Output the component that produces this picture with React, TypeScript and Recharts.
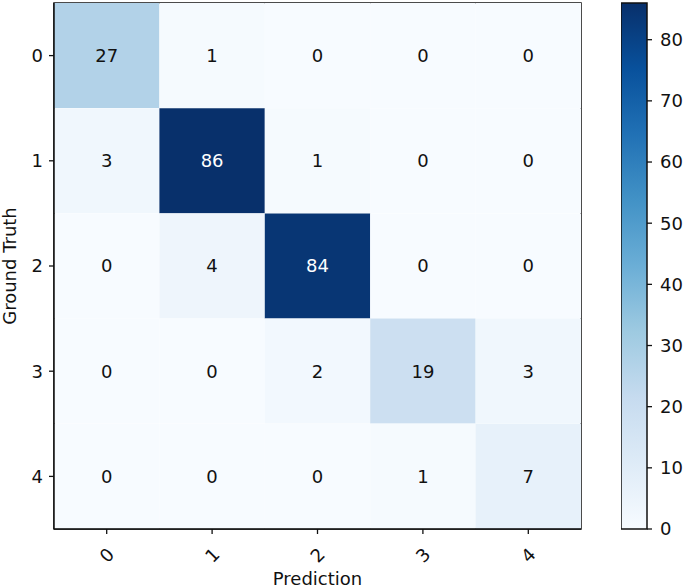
import { BarChart, Bar, XAxis, YAxis, Cell, LabelList, ReferenceArea } from 'recharts';

const truthLabels = ['0', '1', '2', '3', '4'];
const predLabels = ['0', '1', '2', '3', '4'];

const truth0 = [27, 1, 0, 0, 0];
const truth1 = [3, 86, 1, 0, 0];
const truth2 = [0, 4, 84, 0, 0];
const truth3 = [0, 0, 2, 19, 3];
const truth4 = [0, 0, 0, 1, 7];

const colorbarTicks = [0, 10, 20, 30, 40, 50, 60, 70, 80];

const counts = [truth0, truth1, truth2, truth3, truth4];
const maxCount = Math.max(...counts.flat());

// matplotlib "Blues"
const blues = ['#f7fbff', '#deebf7', '#c6dbef', '#9ecae1', '#6baed6', '#4292c6', '#2171b5', '#08519c', '#08306b'];

const hex = (c: string) => [1, 3, 5].map((i) => parseInt(c.slice(i, i + 2), 16));

const bluesAt = (t: number) => {
  const p = Math.min(Math.max(t, 0), 1) * (blues.length - 1);
  const i = Math.min(Math.floor(p), blues.length - 2);
  const f = p - i;
  const a = hex(blues[i]);
  const b = hex(blues[i + 1]);
  const m = a.map((v, k) => Math.round(v + (b[k] - v) * f));
  return `rgb(${m[0]},${m[1]},${m[2]})`;
};

const rows = truthLabels.map((label, i) => {
  const row: any = { truth: label };
  predLabels.forEach((_, j) => {
    row[`c${j}`] = 1;
    row[`v${j}`] = counts[i][j];
  });
  return row;
});

const colorbarData = [{ name: 'cb', value: maxCount }];

const FONT = '"DejaVu Sans", sans-serif';
const INK = '#111';
const FS = 18;

const XTick = (props: any) => {
  const { x, y, payload } = props;
  const label = predLabels[Math.round(payload.value - 0.5)];
  return (
    <g transform={`translate(${x},${y + 21})`}>
      <text textAnchor="middle" dominantBaseline="central" transform="rotate(-45)" fontSize={FS} fontFamily={FONT} fill={INK}>
        {label}
      </text>
    </g>
  );
};

const CellLabel = (props: any) => {
  const { x, y, width, height, value } = props;
  return (
    <text x={x + width / 2} y={y + height / 2} textAnchor="middle" dominantBaseline="central" fontSize={FS} fontFamily={FONT} fill={value > maxCount / 2 ? '#fff' : INK}>
      {value}
    </text>
  );
};

export default function App() {
  return (
    <div style={{ position: 'absolute', left: 0, top: 0, width: 683, height: 588, background: '#fff', fontFamily: FONT }}>
      <div style={{ position: 'absolute', left: 0, top: 0 }}>
        <BarChart width={600} height={588} data={rows} layout="vertical" barCategoryGap={0} barGap={0} margin={{ top: 3, right: 19, bottom: 0, left: 0 }}>
          {predLabels.map((_, j) => (
            <Bar key={j} dataKey={`c${j}`} stackId="m" isAnimationActive={false}>
              {counts.map((r, i) => (
                <Cell key={i} fill={bluesAt(r[j] / maxCount)} />
              ))}
              <LabelList dataKey={`v${j}`} content={<CellLabel />} />
            </Bar>
          ))}
          <XAxis
            type="number"
            domain={[0, 5]}
            ticks={[0.5, 1.5, 2.5, 3.5, 4.5]}
            height={59}
            tickSize={5}
            tickMargin={0}
            tick={<XTick />}
            stroke={INK}
            axisLine={{ stroke: INK, strokeWidth: 1.5 }}
            tickLine={{ stroke: INK, strokeWidth: 1.3 }}
            label={{ value: 'Prediction', position: 'insideBottom', offset: 3, fontSize: FS, fontFamily: FONT, fill: INK }}
          />
          <YAxis
            type="category"
            dataKey="truth"
            width={54}
            tickSize={5}
            tickMargin={6}
            stroke={INK}
            axisLine={{ stroke: INK, strokeWidth: 1.5 }}
            tickLine={{ stroke: INK, strokeWidth: 1.3 }}
            tick={{ fontSize: FS, fontFamily: FONT, fill: INK }}
            label={{ value: 'Ground Truth', angle: -90, position: 'insideLeft', offset: 10, fontSize: FS, fontFamily: FONT, fill: INK, style: { textAnchor: 'middle' } }}
          />
          <ReferenceArea x1={0} x2={5} fill="none" stroke={INK} strokeWidth={1.5} ifOverflow="visible" />
        </BarChart>
      </div>
      <div style={{ position: 'absolute', left: 621, top: 0 }}>
        <BarChart width={62} height={588} data={colorbarData} barCategoryGap={0} margin={{ top: 3, right: 0, bottom: 59, left: 0 }}>
          <defs>
            <linearGradient id="bluesBar" x1="0" y1="1" x2="0" y2="0">
              {blues.map((c, k) => (
                <stop key={k} offset={k / (blues.length - 1)} stopColor={c} />
              ))}
            </linearGradient>
          </defs>
          <Bar dataKey="value" fill="url(#bluesBar)" stroke={INK} strokeWidth={1.5} isAnimationActive={false} />
          <XAxis dataKey="name" hide />
          <YAxis
            orientation="right"
            domain={[0, maxCount]}
            ticks={colorbarTicks}
            width={36}
            tickSize={5}
            tickMargin={8}
            stroke={INK}
            axisLine={false}
            tickLine={{ stroke: INK, strokeWidth: 1.3 }}
            tick={{ fontSize: FS, fontFamily: FONT, fill: INK, textAnchor: 'start' }}
          />
        </BarChart>
      </div>
    </div>
  );
}
